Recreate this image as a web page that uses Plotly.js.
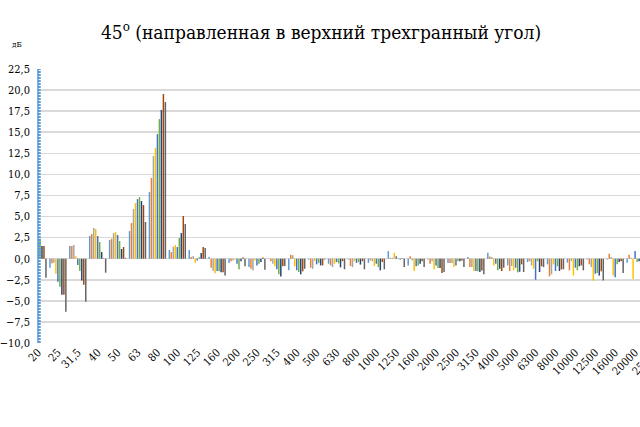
<!DOCTYPE html>
<html>
<head>
<meta charset="utf-8">
<script src="https://cdn.plot.ly/plotly-3.0.1.min.js"></script>
<style>
  html, body { margin: 0; padding: 0; overflow: hidden; background: #fff; }
  #chart { width: 660px; height: 427px; }
</style>
</head>
<body>
<div id="chart"></div>
<script>
// третьоктавные полосы, Гц
var freqs = ["20", "25", "31,5", "40", "50", "63", "80", "100", "125", "160", "200", "250",
    "315", "400", "500", "630", "800", "1000", "1250", "1600", "2000", "2500", "3150",
    "4000", "5000", "6300", "8000", "10000", "12500", "16000", "20000", "25000"];

// значения, дБ (9 серий)
var s1 = [1.0, -1.07, 1.5, 2.69, 2.21, 3.28, 7.9, 1.03, 1.03, 0.2, -0.5, -1.0, -0.05, -1.38, -0.1, -0.6,
    -0.1, -0.5, 0.9, -0.8, -0.1, -0.5, 0.2, 0.7, -0.8, -0.4, -0.67, -0.47, -0.1, -0.1, -0.47, -0.3];
var s2 = [1.2, -0.55, 1.5, 2.92, 2.37, 4.23, 9.57, 0.79, 0.2, -1.07, -0.3, -1.2, -0.3, 0.47, -1.07, -0.8,
    -0.87, -0.2, 0.1, 0.3, -0.6, -0.5, -1.0, 0.25, -1.46, -0.3, -2.1, -1.38, -0.67, 0.6, 0.47, -0.4];
var s3 = [1.0, -0.47, 1.62, 3.64, 3.04, 5.89, 12.17, 1.42, 0.32, -1.46, -0.2, -1.4, -0.6, 0.4, -1.2, -1.0,
    -1.0, -0.3, 0.1, -0.2, -0.3, -0.5, -1.0, 0.2, -0.87, -0.8, -1.86, -0.3, -1.0, 0.2, 0.1, -0.2];
var s4 = [1.5, -1.78, 0.3, 3.52, 3.16, 6.6, 13.12, 1.62, -0.47, -1.74, -0.1, -0.2, -0.9, -0.9, -0.28, -0.6,
    -0.3, -0.87, 0.67, -1.46, -1.26, -1.0, -1.46, -0.8, -1.38, -1.2, -0.67, -2.0, -2.6, -2.0, -2.4, -1.0];
var s5 = [2.0, -2.73, -0.75, 2.69, 2.81, 7.07, 14.78, 1.38, -0.2, -1.46, -0.6, -0.8, -1.26, -1.38, -0.67, -0.4,
    -0.5, -0.6, 0.3, -0.9, -0.8, -0.8, -1.46, -0.6, -1.07, -2.5, -1.46, -1.07, -1.78, -2.2, 0.9, -0.5];
var s6 = [2.4, -3.32, -1.46, 1.98, 2.09, 7.31, 16.56, 2.45, 0.16, -1.5, -1.26, -0.6, -1.86, -1.58, -0.5, -0.55,
    -0.4, -1.0, 0.05, -0.8, -1.1, -0.3, -1.5, -1.38, -1.62, -0.3, -0.9, -1.38, -1.7, -0.67, -0.4, -0.3];
var s7 = [1.5, -4.27, -2.6, 0.79, 1.15, 6.84, 17.63, 3.04, 0.67, -1.62, -0.3, -0.4, -2.1, -1.86, -0.8, -1.03,
    -0.7, -1.38, -0.1, -0.6, -1.1, -0.3, -1.58, -1.2, -1.55, -1.58, -1.46, -0.9, -2.0, -0.4, -0.3, -0.2];
var s8 = [1.5, -4.27, -3.08, 0.05, 1.38, 6.36, 19.53, 5.06, 1.38, -1.62, 0.15, 0.15, -0.9, -1.5, -0.8, -0.3,
    -0.3, -0.4, 0.05, -0.3, -1.7, -0.2, -1.4, -1.46, -0.67, -0.9, -1.26, -0.8, -1.5, -0.3, -0.2, -0.3];
var s9 = [-2.25, -6.28, -5.1, -1.66, 0.1, 4.35, 18.58, 4.11, 1.26, -1.98, -0.9, -1.3, -0.87, -1.2, -0.1, -1.26,
    -1.26, -1.26, -1.0, -1.0, -1.58, -1.0, -1.86, -1.07, -1.58, -1.0, -1.26, -1.38, -2.6, -1.7, -0.5, -0.6];

var series = [s1, s2, s3, s4, s5, s6, s7, s8, s9];
var colors = ['#5B9BD5', '#ED7D31', '#A5A5A5', '#FFC000', '#4472C4',
    '#70AD47', '#264478', '#9E480E', '#636363'];

var data = series.map(function (vals, i) {
    return {
        type: 'bar',
        x: freqs,
        y: vals,
        name: 'Серия ' + (i + 1),
        marker: { color: colors[i] },
        hovertemplate: '%{x} Гц: %{y:.1f} дБ<extra></extra>'
    };
});

// Times-подобного шрифта нет, берём узкий DejaVu Serif
var serif = 'DejaVu Serif Condensed, DejaVu Serif';

var layout = {
    width: 660,
    height: 427,
    paper_bgcolor: '#ffffff',
    plot_bgcolor: '#ffffff',
    font: { family: serif, color: '#000' },
    barmode: 'group',
    bargap: 0.1,
    bargroupgap: 0.25,
    showlegend: false,
    separators: ', ',
    margin: { l: 38, r: 5, t: 69, b: 84 },

    title: {
        text: '45<sup>о</sup> (направленная в верхний трехгранный угол)',
        font: { family: serif, size: 19, color: '#000' },
        xref: 'container',
        x: 321 / 660,
        xanchor: 'center',
        y: 0.925,
        yanchor: 'middle'
    },

    xaxis: {
        type: 'category',
        range: [0, 31],
        tickangle: -45,
        ticks: '',
        showgrid: false,
        showline: false,
        zeroline: false,
        tickfont: { family: serif, size: 11, color: '#000' }
    },

    yaxis: {
        range: [-10, 22.5],
        dtick: 2.5,
        tick0: 0,
        tickformat: '.1f',
        showgrid: true,
        gridcolor: '#d9d9d9',
        gridwidth: 1.6,
        zeroline: false,
        showline: false,
        ticks: '',
        ticklabelstandoff: 7,
        tickfont: { family: serif, size: 11, color: '#000' }
    },

    annotations: [{
        text: 'дБ',
        xref: 'paper', yref: 'paper',
        x: -0.045, y: 1.09,
        xanchor: 'left', yanchor: 'middle',
        showarrow: false,
        font: { family: serif, size: 8, color: '#000' }
    }],

    shapes: [{
        type: 'line',
        xref: 'paper', yref: 'y',
        x0: 0, x1: 0, y0: -10, y1: 22.5,
        line: { color: '#5B9BD5', width: 1.5 },
        layer: 'above'
    }, {
        type: 'line',
        xref: 'paper', yref: 'y',
        x0: 0.002, x1: 0.002, y0: -10, y1: 22.5,
        line: { color: '#5B9BD5', width: 3, dash: '2px,1px' },
        layer: 'above'
    }]
};

Plotly.newPlot('chart', data, layout, { staticPlot: true });
</script>
</body>
</html>
